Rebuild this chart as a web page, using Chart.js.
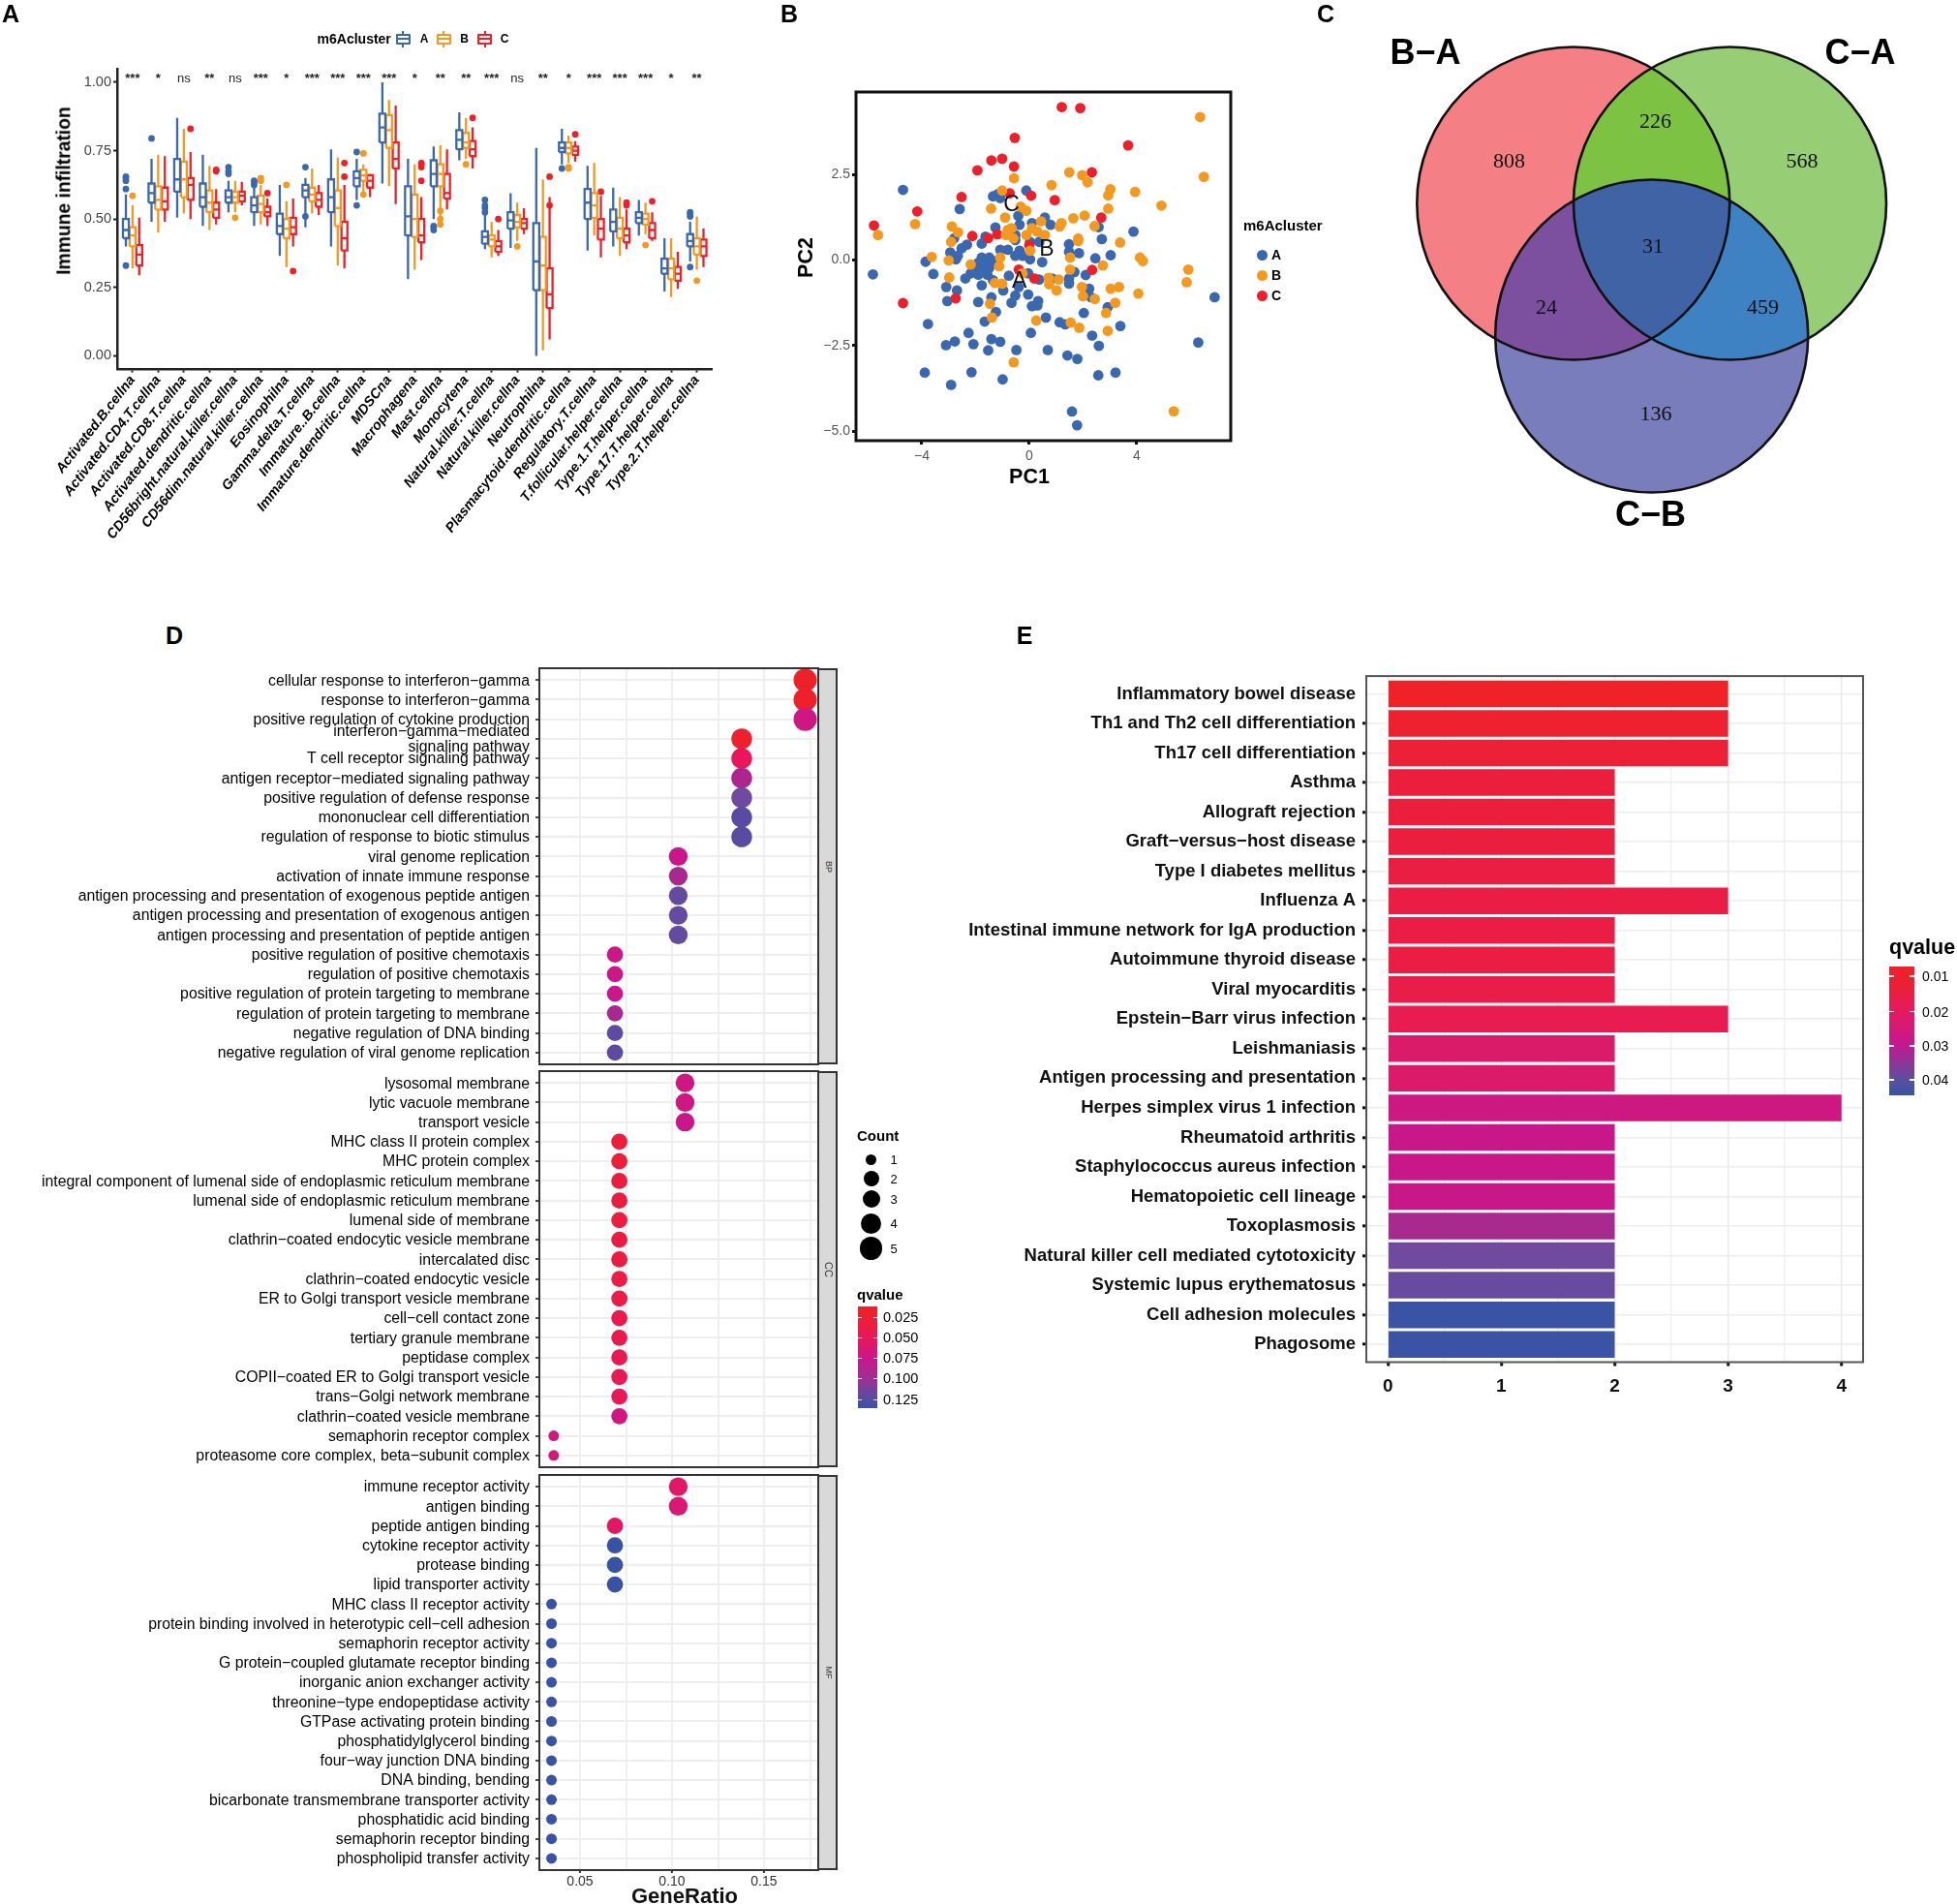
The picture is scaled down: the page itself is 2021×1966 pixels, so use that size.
<!DOCTYPE html>
<html><head><meta charset="utf-8">
<script src="https://cdn.jsdelivr.net/npm/chart.js@4"></script>
<style>
html,body{margin:0;padding:0;background:#fff;width:2021px;height:1966px;overflow:hidden;font-family:"Liberation Sans",Arial,sans-serif}
canvas{position:absolute}
.t{position:absolute;white-space:nowrap;line-height:1;color:#000;z-index:5}
.b{position:absolute;z-index:4}
</style></head><body>
<script>
/* ---------- Panel A data ---------- */
const catsA=["Activated.B.cellna","Activated.CD4.T.cellna","Activated.CD8.T.cellna","Activated.dendritic.cellna","CD56bright.natural.killer.cellna","CD56dim.natural.killer.cellna","Eosinophilna","Gamma.delta.T.cellna","Immature..B.cellna","Immature.dendritic.cellna","MDSCna","Macrophagena","Mast.cellna","Monocytena","Natural.killer.T.cellna","Natural.killer.cellna","Neutrophilna","Plasmacytoid.dendritic.cellna","Regulatory.T.cellna","T.follicular.helper.cellna","Type.1.T.helper.cellna","Type.17.T.helper.cellna","Type.2.T.helper.cellna"];
const sigA=["***","*","ns","**","ns","***","*","***","***","***","***","*","**","**","***","ns","**","*","***","***","***","*","**"];
/* each box: low whisker, q1, median, q3, high whisker */
const boxA=[[.40,.43,.46,.50,.59],[.49,.56,.595,.63,.72],[.505,.60,.645,.72,.87],[.475,.545,.58,.63,.735],[.525,.56,.58,.605,.64],[.475,.525,.55,.58,.62],[.365,.445,.475,.52,.625],[.47,.58,.605,.625,.65],[.40,.525,.58,.645,.755],[.57,.62,.65,.675,.72],[.63,.78,.835,.885,1.0],[.28,.44,.51,.62,.72],[.50,.62,.665,.715,.765],[.715,.755,.79,.825,.89],[.39,.41,.435,.455,.52],[.395,.465,.495,.525,.595],[0,.24,.345,.485,.76],[.70,.745,.76,.78,.83],[.385,.50,.56,.61,.695],[.40,.455,.49,.535,.615],[.44,.485,.505,.525,.57],[.235,.30,.32,.355,.43],[.345,.40,.42,.445,.49]];
const boxB=[[.32,.40,.44,.47,.55],[.45,.535,.57,.62,.735],[.52,.58,.645,.71,.83],[.46,.525,.56,.605,.695],[.525,.56,.58,.60,.64],[.48,.525,.555,.585,.625],[.325,.43,.465,.50,.565],[.52,.565,.59,.615,.685],[.33,.475,.54,.605,.725],[.60,.64,.66,.68,.70],[.62,.76,.825,.88,.935],[.315,.435,.50,.59,.70],[.51,.62,.665,.70,.77],[.72,.76,.78,.815,.87],[.36,.40,.425,.44,.49],[.42,.47,.49,.515,.56],[.02,.24,.33,.435,.645],[.705,.74,.76,.78,.805],[.44,.505,.55,.595,.705],[.365,.43,.465,.505,.58],[.445,.48,.50,.52,.56],[.215,.28,.32,.355,.43],[.315,.37,.40,.43,.51]];
const boxC=[[.295,.33,.37,.405,.505],[.49,.535,.565,.615,.73],[.50,.57,.625,.65,.745],[.48,.505,.535,.56,.61],[.55,.565,.585,.60,.635],[.475,.51,.525,.545,.575],[.40,.445,.47,.505,.575],[.515,.545,.57,.595,.625],[.32,.385,.43,.49,.625],[.58,.615,.64,.66,.665],[.555,.685,.72,.78,.915],[.35,.415,.44,.50,.58],[.535,.575,.595,.665,.755],[.685,.73,.755,.785,.835],[.365,.38,.40,.42,.46],[.445,.465,.485,.50,.54],[.06,.175,.225,.32,.58],[.71,.735,.75,.765,.785],[.36,.425,.465,.50,.585],[.39,.415,.44,.465,.535],[.42,.43,.46,.485,.525],[.245,.275,.30,.325,.38],[.325,.365,.40,.425,.465]];
const outA=[[.33,.61,.64,.65,.655],[.795],[],[],[.665,.675,.69],[.625,.635,.64],[],[.51,.69],[],[.55,.745],[],[],[.46,.47,.475],[],[.525,.54,.55,.57],[],[],[.685],[],[],[],[],[.325,.51,.52,.525]];
const outB=[[.585],[],[],[],[.505],[.64,.65],[.625],[],[],[.59,.74],[],[],[.48,.50,.53],[.70],[],[.40],[],[.685,.69],[],[],[.405],[],[.275]];
const outC=[[],[],[.83],[.675,.68],[],[.595],[.31],[],[.655,.705],[],[],[.64,.69,.70,.705],[],[.87],[.50],[],[.55,.655],[.81],[.60],[.55,.56],[.565],[],[]];

/* ---------- Panel B data: PC1 / PC2 ---------- */
const pcaA_x=[-4.7,-.11,-2.59,-1.35,-1.17,-1.08,-.41,-.36,.1,.58,.79,-1.26,2.58,3.88,2.7,-.52,-.52,-2.8,-2.32,-2.52,-1.77,-1.63,-2.94,-2.66,-2.73,-1.08,-.8,-.52,-.36,-.25,.03,.03,.37,1.48,1.48,1.85,2.46,3.03,-3.86,-3.57,-5.82,.48,-1.77,-1.49,-1.9,-1.63,-1.35,-2.04,-1.77,-1.49,-2.18,-1.9,-1.56,-2.38,-1.77,-1.35,-.04,-.76,.37,.86,1.68,1.48,1.48,2.1,2.23,2.3,-3.09,-2.69,-3.05,-.97,-.39,-.52,-.66,-.04,-1.9,-1.41,.1,.33,.3,6.9,2.92,2.03,-1.24,-1.66,.62,1.13,1.34,3.39,-3.77,-2.26,.06,2.34,-1.41,-1.08,-2.77,-3.1,-2.08,6.29,2.59,-1.53,-.48,.69,1.42,1.79,-3.89,-2.15,3.21,2.57,-2.91,-.99,1.59,1.78];
const pcaA_y=[2.05,2.03,1.49,1.86,1.93,1.81,1.29,1.03,1.08,1.24,1.03,.95,.96,.83,.61,.73,.58,.63,.45,.34,.48,.68,.22,.12,.02,.3,.3,.12,.27,.12,.02,.53,.53,.46,.24,.2,.05,.14,-.05,-.41,-.42,-.06,.07,.07,-.08,-.08,-.03,-.23,-.28,-.23,-.39,-.43,-.43,-.54,-.74,-.59,-.39,-.46,-.57,-.54,-.35,-.54,-.69,-.44,-.84,-1.09,-.79,-.89,-1.2,-.89,-.79,-1.04,-1.25,-1.01,-1.23,-1.09,-1.35,-1.2,-1.33,-1.09,-1.38,-1.55,-1.52,-1.8,-1.68,-1.82,-1.88,-1.93,-1.87,-2.13,-2.13,-2.21,-2.31,-2.39,-2.38,-2.49,-2.46,-2.41,-2.51,-2.64,-2.63,-2.63,-2.79,-2.89,-3.29,-3.28,-3.29,-3.37,-3.65,-3.49,-4.43,-4.83];
const pcaB_x=[6.36,6.5,1.49,1.97,2.17,.83,-.57,3.02,2.94,3.94,4.92,2.94,2.06,1.64,1.2,1.13,2.43,-4.25,-5.63,-2.88,-2.65,-1.42,-.9,-1.01,-.11,-.32,-.8,-.66,-.87,-.59,.1,.44,.3,.58,-.11,.03,1.82,1.82,3.38,1.52,-2.91,-3.63,-3,-2.18,-1.08,-1.12,4.12,4.23,2.74,5.92,5.86,-2.98,-1.28,-1.01,.72,.74,1.1,1.02,1.52,1.96,2,2.44,3.03,3.34,3.2,4.06,2.86,-1.46,-1.39,.26,1.54,1.86,2.92,-.58,5.38,-.25];
const pcaB_y=[4.18,2.43,2.56,2.48,2.27,2.19,2.39,2.07,1.89,1.99,1.59,1.5,1.3,1.22,1.08,.98,.99,1.05,.73,.98,.81,1.5,1.24,2.03,1.44,1.56,.88,.93,.73,.63,.93,1.13,.83,.73,.73,.27,.63,.55,.51,.07,.53,.09,-.01,-.13,.07,-.18,.07,-.03,-.16,-.28,-.65,-.51,-.67,-.69,-.52,-.71,-.57,-.89,-.28,-.79,-1.06,-1.14,-.84,-.79,-1.25,-.98,-1.55,-1.28,-1.68,-1.77,-1.83,-1.98,-2.07,-2.99,-4.42,-.39];
const pcaC_x=[1.21,1.9,-.54,3.68,-1.01,-1.41,-.57,-1.93,2.33,-.73,.07,-2.52,.95,-4.17,2.68,-5.78,-2.12,-1.53,-1.19,0,-.39,.19,2.34,-2.74,-4.7];
const pcaC_y=[4.47,4.44,3.57,3.35,2.96,2.91,2.73,2.62,2.56,1.95,1.88,1.84,1.75,1.42,1.24,1.01,.7,.64,.75,.43,-.28,-.54,-.29,-1.12,-1.26];
const pcaLabels=[["A",-.37,-.64],["B",.65,.3],["C",-.66,1.62]];

/* ---------- Panel C data ---------- */
const vennSets=["B\u2212A","C\u2212A","C\u2212B"];
const vennCounts=[808,226,568,31,24,459,136];

/* ---------- Panel D data ---------- */
const termsBP=["cellular response to interferon\u2212gamma","response to interferon\u2212gamma","positive regulation of cytokine production",["interferon\u2212gamma\u2212mediated","signaling pathway"],"T cell receptor signaling pathway","antigen receptor\u2212mediated signaling pathway","positive regulation of defense response","mononuclear cell differentiation","regulation of response to biotic stimulus","viral genome replication","activation of innate immune response","antigen processing and presentation of exogenous peptide antigen","antigen processing and presentation of exogenous antigen","antigen processing and presentation of peptide antigen","positive regulation of positive chemotaxis","regulation of positive chemotaxis","positive regulation of protein targeting to membrane","regulation of protein targeting to membrane","negative regulation of DNA binding","negative regulation of viral genome replication"];
const ratioBP=[.1724,.1724,.1724,.1379,.1379,.1379,.1379,.1379,.1379,.1034,.1034,.1034,.1034,.1034,.069,.069,.069,.069,.069,.069];
const countBP=[5,5,5,4,4,4,4,4,4,3,3,3,3,3,2,2,2,2,2,2];
const qBP=[.012,.012,.07,.015,.045,.088,.108,.12,.12,.075,.09,.115,.115,.115,.072,.072,.074,.09,.118,.118];
const termsCC=["lysosomal membrane","lytic vacuole membrane","transport vesicle","MHC class II protein complex","MHC protein complex","integral component of lumenal side of endoplasmic reticulum membrane","lumenal side of endoplasmic reticulum membrane","lumenal side of membrane","clathrin\u2212coated endocytic vesicle membrane","intercalated disc","clathrin\u2212coated endocytic vesicle","ER to Golgi transport vesicle membrane","cell\u2212cell contact zone","tertiary granule membrane","peptidase complex","COPII\u2212coated ER to Golgi transport vesicle","trans\u2212Golgi network membrane","clathrin\u2212coated vesicle membrane","semaphorin receptor complex","proteasome core complex, beta\u2212subunit complex"];
const ratioCC=[.1071,.1071,.1071,.0714,.0714,.0714,.0714,.0714,.0714,.0714,.0714,.0714,.0714,.0714,.0714,.0714,.0714,.0714,.0357,.0357];
const countCC=[3,3,3,2,2,2,2,2,2,2,2,2,2,2,2,2,2,2,1,1];
const qCC=[.07,.07,.075,.022,.022,.025,.025,.027,.028,.028,.03,.03,.032,.033,.037,.039,.042,.068,.064,.064];
const termsMF=["immune receptor activity","antigen binding","peptide antigen binding","cytokine receptor activity","protease binding","lipid transporter activity","MHC class II receptor activity","protein binding involved in heterotypic cell\u2212cell adhesion","semaphorin receptor activity","G protein\u2212coupled glutamate receptor binding","inorganic anion exchanger activity","threonine\u2212type endopeptidase activity","GTPase activating protein binding","phosphatidylglycerol binding","four\u2212way junction DNA binding","DNA binding, bending","bicarbonate transmembrane transporter activity","phosphatidic acid binding","semaphorin receptor binding","phospholipid transfer activity"];
const ratioMF=[.1034,.1034,.069,.069,.069,.069,.0345,.0345,.0345,.0345,.0345,.0345,.0345,.0345,.0345,.0345,.0345,.0345,.0345,.0345];
const countMF=[3,3,2,2,2,2,1,1,1,1,1,1,1,1,1,1,1,1,1,1];
const qMF=[.052,.06,.05,.13,.13,.13,.13,.13,.13,.13,.13,.13,.13,.13,.13,.13,.13,.13,.13,.13];

/* ---------- Panel E data ---------- */
const pathE=["Inflammatory bowel disease","Th1 and Th2 cell differentiation","Th17 cell differentiation","Asthma","Allograft rejection","Graft\u2212versus\u2212host disease","Type I diabetes mellitus","Influenza A","Intestinal immune network for IgA production","Autoimmune thyroid disease","Viral myocarditis","Epstein\u2212Barr virus infection","Leishmaniasis","Antigen processing and presentation","Herpes simplex virus 1 infection","Rheumatoid arthritis","Staphylococcus aureus infection","Hematopoietic cell lineage","Toxoplasmosis","Natural killer cell mediated cytotoxicity","Systemic lupus erythematosus","Cell adhesion molecules","Phagosome"];
const countE=[3,3,3,2,2,2,2,3,2,2,2,3,2,2,4,2,2,2,2,2,2,2,2];
const qE=[.008,.0095,.011,.0125,.0125,.013,.0135,.014,.014,.014,.015,.016,.021,.021,.026,.028,.028,.028,.032,.039,.04,.046,.046];

/* ---------- Styles & helpers ---------- */
const BLUE="#3A68B0",ORANGE="#F4991F",RED="#EC1F2B",FONT='"Liberation Sans"';
Chart.defaults.font.family=FONT;Chart.defaults.animation=false;Chart.defaults.responsive=false;Chart.defaults.devicePixelRatio=1;
Chart.defaults.plugins.legend.display=false;Chart.defaults.plugins.tooltip.enabled=false;

function hex(c){return [1,3,5].map(i=>parseInt(c.substr(i,2),16));}
function ramp(stops,q){
  if(q<=stops[0][0])return stops[0][1];
  for(let i=1;i<stops.length;i++){if(q<=stops[i][0]){
    const t=(q-stops[i-1][0])/(stops[i][0]-stops[i-1][0]),a=hex(stops[i-1][1]),b=hex(stops[i][1]);
    return `rgb(${a.map((v,k)=>Math.round(v+(b[k]-v)*t)).join(",")})`;}}
  return stops[stops.length-1][1];
}
const rampD=[[.01,"#EE2227"],[.045,"#E8175D"],[.075,"#C9178A"],[.09,"#A8288F"],[.108,"#6F4A9E"],[.12,"#5A4BA2"],[.13,"#3953A4"]];
const rampE=[[.008,"#EE2227"],[.0155,"#E91C4D"],[.021,"#DC1A6A"],[.028,"#C9178A"],[.032,"#A72A8E"],[.039,"#704A9D"],[.046,"#3A53A4"]];

function canvas(x,y,w,h){const c=document.createElement("canvas");c.width=w;c.height=h;c.style.left=x+"px";c.style.top=y+"px";c.style.width=w+"px";c.style.height=h+"px";document.body.appendChild(c);return c;}
function T(s,x,y,o={}){const d=document.createElement("div");d.className="t";d.textContent=s;
  const ax=o.align==="left"?"0":o.align==="right"?"-100%":"-50%";
  d.style.cssText=`left:${x}px;top:${y}px;font-size:${o.size||14}px;font-weight:${o.weight||"normal"};color:${o.color||"#000"};font-family:${o.family||FONT};transform:translate(${ax},-50%) rotate(${o.rot||0}deg)`;
  document.body.appendChild(d);return d;}
function R(x,y,w,h,css){const d=document.createElement("div");d.className="b";d.style.cssText=`left:${x}px;top:${y}px;width:${w}px;height:${h}px;${css}`;document.body.appendChild(d);return d;}
const frame=(color,w)=>({id:"frame",afterDatasetsDraw(ch){const a=ch.chartArea,c=ch.ctx;c.save();c.strokeStyle=color;c.lineWidth=w;c.strokeRect(a.left,a.top,a.right-a.left,a.bottom-a.top);c.restore();}});
const fitW=w=>s=>{s.width=w;};const fitH=h=>s=>{s.height=h;};

/* ---------- Panel A ---------- */
function boxSegments(boxes,off){const pts=[],w=.115,gap={x:null,y:null};
  boxes.forEach((b,i)=>{const x=i+off,[lo,q1,m,q3,hi]=b;
    pts.push({x,y:lo},{x,y:q1},gap,{x,y:q3},{x,y:hi},gap,
      {x:x-w,y:q1},{x:x+w,y:q1},{x:x+w,y:q3},{x:x-w,y:q3},{x:x-w,y:q1},gap,{x:x-w,y:m},{x:x+w,y:m},gap);});
  return pts;}
function outliers(o,off){const p=[];o.forEach((a,i)=>a.forEach(y=>p.push({x:i+off,y})));return p;}
const lineSet=(boxes,off,col)=>({type:"scatter",showLine:true,spanGaps:false,data:boxSegments(boxes,off),borderColor:col,borderWidth:2.3,pointRadius:0,clip:false});
const dotSet=(o,off,col)=>({type:"scatter",showLine:false,data:outliers(o,off),backgroundColor:col,borderWidth:0,pointRadius:3.4,clip:false});
new Chart(canvas(0,0,760,640),{type:"scatter",
  data:{datasets:[lineSet(boxA,-.26,BLUE),lineSet(boxB,0,ORANGE),lineSet(boxC,.26,RED),dotSet(outA,-.26,BLUE),dotSet(outB,0,ORANGE),dotSet(outC,.26,RED)]},
  options:{layout:{autoPadding:false,padding:{top:71.4,right:24.5,left:0,bottom:0}},
    scales:{
      x:{type:"linear",min:-.6,max:22.6,afterFit:fitH(258.4),grid:{display:true,drawOnChartArea:false,tickLength:3,tickColor:"#222",tickWidth:2},border:{color:"#222",width:2.5},
        ticks:{stepSize:1,includeBounds:false,autoSkip:false,minRotation:52,maxRotation:52,padding:0,color:"#000",font:{size:14.3,weight:"bold",style:"italic"},callback:v=>catsA[v]}},
      y:{type:"linear",min:-.05,max:1.048,afterFit:fitW(121),grid:{display:true,drawOnChartArea:false,tickLength:4,tickColor:"#222",tickWidth:2},border:{color:"#222",width:2.5},
        ticks:{stepSize:.25,includeBounds:false,padding:2,color:"#444",font:{size:14.5},callback:v=>v.toFixed(2)}}}},
  plugins:[{id:"sig",afterDatasetsDraw(ch){const c=ch.ctx,x=ch.scales.x,y=ch.scales.y;c.save();c.textAlign="center";c.textBaseline="middle";c.fillStyle="#222";
    sigA.forEach((s,i)=>{const ns=s==="ns";c.font=(ns?"":"bold ")+"13px "+FONT;c.fillText(s,x.getPixelForValue(i),y.getPixelForValue(ns?1.013:1.012));});c.restore();}}]});
T("Immune infiltration",66,197,{size:19.3,weight:"bold",rot:-90});
T("m6Acluster",365.7,40,{size:14,weight:"bold"});
[[416,BLUE,"A",438],[458,ORANGE,"B",479.6],[500.5,RED,"C",521]].forEach(([x,c,l,tx])=>{
  R(x-7.5,34.5,15,11,`border:2px solid ${c};box-sizing:border-box;border-radius:1px`);
  R(x-7,39.3,14,1.5,`background:${c}`);R(x-1,31.5,2,3,`background:${c}`);R(x-1,45.5,2,3,`background:${c}`);
  T(l,tx,40,{size:12,weight:"bold"});});

/* ---------- Panel B ---------- */
const zip=(a,b)=>a.map((v,i)=>({x:v,y:b[i]}));
const pcaSet=(a,b,col)=>({data:zip(a,b),backgroundColor:col,borderWidth:0,pointRadius:5.4,clip:false});
new Chart(canvas(790,70,500,440),{type:"scatter",
  data:{datasets:[pcaSet(pcaB_x,pcaB_y,ORANGE),pcaSet(pcaC_x,pcaC_y,RED),pcaSet(pcaA_x,pcaA_y,BLUE)]},
  options:{layout:{autoPadding:false,padding:{top:25,right:19,left:0,bottom:0}},
    scales:{
      x:{min:-6.45,max:7.5,afterFit:fitH(55),grid:{display:true,drawOnChartArea:false,tickLength:4,tickColor:"#111",tickWidth:3},border:{display:false},
        ticks:{stepSize:4,includeBounds:false,padding:4,color:"#555",font:{size:14},callback:v=>String(v).replace("-","\u2212")}},
      y:{min:-5.28,max:4.91,afterFit:fitW(94),grid:{display:true,drawOnChartArea:false,tickLength:4,tickColor:"#111",tickWidth:3},border:{display:false},
        ticks:{stepSize:2.5,includeBounds:false,padding:2,color:"#555",font:{size:14},callback:v=>v.toFixed(1).replace("-","\u2212")}}}},
  plugins:[frame("#111",3),{id:"lab",afterDatasetsDraw(ch){const c=ch.ctx,x=ch.scales.x,y=ch.scales.y;c.save();c.textAlign="center";c.textBaseline="middle";c.fillStyle="#111";c.font="23px "+FONT;
    pcaLabels.forEach(([s,a,b])=>c.fillText(s,x.getPixelForValue(a),y.getPixelForValue(b)));c.restore();}}]});
T("PC1",1063,493,{size:21.5,weight:"bold"});T("PC2",833,266,{size:21.5,weight:"bold",rot:-90});
T("m6Acluster",1284,232,{size:15,weight:"bold",align:"left"});
[[263,BLUE,"A"],[284,ORANGE,"B"],[305,RED,"C"]].forEach(([y,c,l])=>{R(1297.5,y-5.5,11,11,`background:${c};border-radius:50%`);T(l,1318,y,{size:14,weight:"bold"});});

/* ---------- Panel C ---------- */
const vennCircles=[{x:244.8,y:210,r:161.5},{x:406.5,y:210,r:161.5},{x:325.7,y:347,r:161.5}];
const vennPos=[[178.5,167],[329.5,126],[481,167],[327,255],[217,318],[440.6,318],[330,428]];
const vennFill={a:"#F47F85",b:"#97CE75",c:"#7A7DBB",ab:"#7DC243",ac:"#7C4F9F",bc:"#3E82C4",abc:"#3F63A5"};
new Chart(canvas(1380,0,641,570),{type:"bubble",
  data:{datasets:[{data:vennCircles,backgroundColor:"rgba(0,0,0,0)",borderColor:"#111",borderWidth:2.6,clip:false}]},
  options:{layout:{autoPadding:false,padding:0},scales:{x:{display:false,min:0,max:641},y:{display:false,min:0,max:570,reverse:true}}},
  plugins:[{id:"venn",beforeDatasetsDraw(ch){const c=ch.ctx,e=ch.getDatasetMeta(0).data,rad=vennCircles.map(v=>v.r);
      const path=i=>{c.beginPath();c.arc(e[i].x,e[i].y,rad[i],0,Math.PI*2);};
      const fill=(clips,i,col)=>{c.save();clips.forEach(k=>{path(k);c.clip();});path(i);c.fillStyle=col;c.fill();c.restore();};
      fill([],0,vennFill.a);fill([],1,vennFill.b);fill([],2,vennFill.c);
      fill([0],1,vennFill.ab);fill([0],2,vennFill.ac);fill([1],2,vennFill.bc);fill([0,1],2,vennFill.abc);},
    afterDatasetsDraw(ch){const c=ch.ctx,x=ch.scales.x,y=ch.scales.y;c.save();c.font='22px "Liberation Serif"';c.fillStyle="#111";c.textAlign="center";c.textBaseline="middle";
      vennCounts.forEach((n,i)=>c.fillText(n,x.getPixelForValue(vennPos[i][0]),y.getPixelForValue(vennPos[i][1])));c.restore();}}]});
T(vennSets[0],1472,54,{size:36,weight:"bold"});T(vennSets[1],1921,54,{size:36,weight:"bold"});T(vennSets[2],1704.5,531,{size:36,weight:"bold"});

/* ---------- Panel D ---------- */
const dotR={1:5.5,2:8.4,3:9.7,4:10.7,5:12};
const isMajor=v=>Math.abs(v*20-Math.round(v*20))<1e-6;
function dotPanel(top,bottom,terms,ratio,count,q,strip,stripSize,withAxis){
  const pad=20,B=withAxis?30:pad;
  new Chart(canvas(0,top-pad,880,bottom-top+pad+B),{type:"bubble",
    data:{datasets:[{data:ratio.map((x,i)=>({x,y:i,r:dotR[count[i]]})),backgroundColor:q.map(v=>ramp(rampD,v)),borderWidth:0,clip:false}]},
    options:{layout:{autoPadding:false,padding:{top:pad,right:35,left:0,bottom:0}},
      scales:{
        x:{min:.0279,max:.1795,afterFit:fitH(B),border:{display:false},
          grid:{color:"#EEEEEE",lineWidth:1.8,drawTicks:withAxis,tickLength:3,tickColor:c=>c.tick&&isMajor(c.tick.value)?"#222":"rgba(0,0,0,0)"},
          ticks:{display:withAxis,stepSize:.025,includeBounds:false,autoSkip:false,maxRotation:0,padding:1,color:"#333",font:{size:14},callback:v=>isMajor(v)?v.toFixed(2):""}},
        y:{min:-.6,max:19.6,reverse:true,afterFit:fitW(557),border:{display:false},
          grid:{color:"#EEEEEE",lineWidth:2,tickLength:4,tickColor:"#111",tickWidth:1.5},
          ticks:{stepSize:1,includeBounds:false,autoSkip:false,padding:6,color:"#000",font:{size:15.8,lineHeight:1},labelOffset:1,callback:v=>terms[v]}}}},
    plugins:[frame("#333",2)]});
  R(845,top,20,bottom-top,"background:#D9D9D9;border:2px solid #333;border-left-width:1px;box-sizing:border-box");
  T(strip,855,(top+bottom)/2,{size:stripSize,color:"#333",rot:90});
}
dotPanel(690,1099.3,termsBP,ratioBP,countBP,qBP,"BP",9,false);
dotPanel(1106,1515,termsCC,ratioCC,countCC,qCC,"CC",11,false);
dotPanel(1522.7,1931,termsMF,ratioMF,countMF,qMF,"MF",9,true);
T("GeneRatio",707,1958,{size:22,weight:"bold",color:"#111"});
T("Count",885,1172,{size:15,weight:"bold",align:"left"});
[[1,1197,5.5],[2,1217,8],[3,1238,9],[4,1263,10.5],[5,1289,11.6]].forEach(([n,y,r])=>{R(899.6-r,y-r,2*r,2*r,"background:#000;border-radius:50%");T(String(n),923,y,{size:13});});
T("qvalue",885,1336,{size:15,weight:"bold",align:"left"});
R(886,1349,20,105,"background:linear-gradient(to bottom,#EE2227 0%,#EE2030 10%,#E8185A 30%,#C8178B 52%,#9C3192 72%,#5F4BA0 88%,#3953A4 100%)");
[[.025,1360],[.050,1381],[.075,1402],[.100,1423],[.125,1445]].forEach(([v,y])=>{R(886,y-.5,4,1.2,"background:#fff");R(902,y-.5,4,1.2,"background:#fff");T(v.toFixed(3),912,y,{size:14.5,align:"left"});});

/* ---------- Panel E ---------- */
new Chart(canvas(960,680,1000,780),{type:"bar",
  data:{datasets:[{data:countE.map((x,i)=>({x,y:i})),backgroundColor:qE.map(v=>ramp(rampE,v)),barPercentage:.9,categoryPercentage:1,borderWidth:0}]},
  options:{indexAxis:"y",layout:{autoPadding:false,padding:{top:18,right:36,left:0,bottom:0}},
    scales:{
      x:{type:"linear",min:-.19,max:4.19,afterFit:fitH(53.5),border:{display:false},
        grid:{color:c=>c.tick&&c.tick.value%1===0?"#E8E8E8":"#F0F0F0",lineWidth:1.4,tickLength:4,tickWidth:3,tickColor:c=>c.tick&&c.tick.value%1===0?"#111":"rgba(0,0,0,0)"},
        ticks:{stepSize:.5,includeBounds:false,autoSkip:false,maxRotation:0,padding:10,color:"#111",font:{size:19,weight:"bold"},callback:v=>v%1===0?v:""}},
      y:{type:"linear",offset:false,min:-.6,max:22.6,reverse:true,afterFit:fitW(451),border:{display:false},
        grid:{offset:false,color:"#EDEDED",lineWidth:1.6,tickLength:4,tickWidth:3,tickColor:c=>c.tick&&c.tick.value===0?"rgba(0,0,0,0)":"#111"},
        ticks:{stepSize:1,includeBounds:false,autoSkip:false,padding:7,color:"#111",font:{size:18.5,weight:"bold"},callback:v=>pathE[v]}}}},
  plugins:[frame("#555",2)]});
T("qvalue",1951,979,{size:21.5,weight:"bold",align:"left"});
R(1951,998,26,133,"background:linear-gradient(to bottom,#EE2227 0%,#EC1F35 15%,#E41B5F 35%,#C5178E 60%,#5A4FA0 88%,#3953A4 100%)");
[[.01,1008],[.02,1044.6],[.03,1080],[.04,1115]].forEach(([v,y])=>{R(1951,y-.7,5,1.5,"background:#fff");R(1972,y-.7,5,1.5,"background:#fff");T(v.toFixed(2),1985,y,{size:14,align:"left"});});

/* ---------- Panel letters ---------- */
[["A",11,14],["B",815,14],["C",1369,14],["D",180,656],["E",1058,656]].forEach(([s,x,y])=>T(s,x,y,{size:25,weight:"bold"}));
</script>
</body></html>
